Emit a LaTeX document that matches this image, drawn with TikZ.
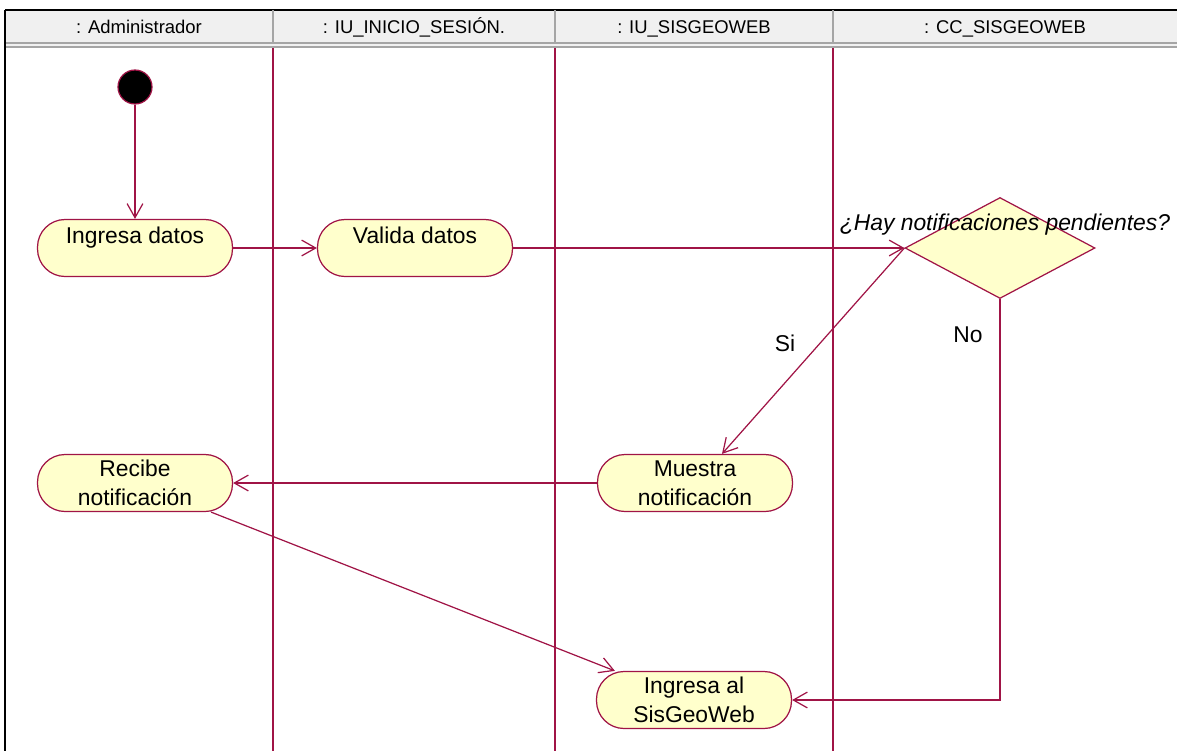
\documentclass[tikz,border=0pt]{standalone}
\usepackage{fontspec}
\setmainfont{Liberation Sans}
\usetikzlibrary{arrows.meta,shapes.geometric}
\definecolor{roseline}{RGB}{160,20,70}
\definecolor{rosefill}{RGB}{255,255,204}
\definecolor{headfill}{RGB}{240,240,240}
\definecolor{headline}{RGB}{165,165,165}

\begin{document}
\begin{tikzpicture}[
    x=0.02cm, y=-0.02cm,
    font=\fontsize{13}{16.5}\selectfont,
    >={Straight Barb[length=8pt,width=9pt]}, line width=0.7pt,
    activity/.style={draw=roseline, fill=rosefill, rounded corners=0.55cm, minimum width=3.9cm, minimum height=1.14cm, align=center, inner sep=2pt},
    oneline/.style={text height=9pt, text depth=14.6pt},
    lanehead/.style={font=\fontsize{10.5}{12}\selectfont, text height=8pt, text depth=2.5pt},
    flow/.style={->, draw=roseline}
]

\useasboundingbox (0,0) rectangle (1177,751);

% swimlane headers
\fill[headfill] (5,10) rectangle (1177,42);
\fill[headline] (5,42) rectangle (1177,48);
\draw[white!85!headline, line width=0.8pt] (5,45) -- (1177,45);
\draw[black, line width=1.2pt] (5,10) -- (1177,10);
\draw[black, line width=1.2pt] (5,10) -- (5,751);
\foreach \x in {273,555,833} {
    \draw[headline, line width=1.5pt] (\x,10) -- (\x,42);
    \draw[roseline] (\x,48) -- (\x,751);
}

\node[lanehead] (hdadmin)  at (139,29)  {: Administrador};
\node[lanehead] (hdinicio) at (414,29)  {: IU\_INICIO\_SESIÓN.};
\node[lanehead] (hdsisgeo) at (694,29)  {: IU\_SISGEOWEB};
\node[lanehead] (hdcc)     at (1005,29) {: CC\_SISGEOWEB};

% activities
\node[circle, draw=roseline, fill=black, minimum size=0.68cm, inner sep=0pt] (start) at (135,87) {};
\node[activity, oneline] (ingresa) at (135,248) {Ingresa datos};
\node[activity, oneline] (valida)  at (415,248) {Valida datos};
\node[diamond, draw=roseline, fill=rosefill, minimum width=3.8cm, minimum height=2.02cm, inner sep=0pt] (decision) at (1000,248) {};
\node (pregunta) at (1005,225) {\itshape ¿Hay notificaciones pendientes?};
\node[activity] (muestra)    at (695,483) {Muestra\\notificación};
\node[activity] (recibe)     at (135,483) {Recibe\\notificación};
\node[activity] (ingresaweb) at (694,700) {Ingresa al\\SisGeoWeb};

\node (lblsi) at (785,343) {Si};
\node (lblno) at (968,335) {No};

\draw[flow] (start) -- (ingresa);

\draw[flow] (ingresa) -- (valida);

\draw[flow] (valida) -- (decision.west);

\draw[flow] (decision.west) -- ([xshift=0.54cm]muestra.north);

\draw[flow] (decision.south) |- (ingresaweb.east);

\draw[flow] (muestra) -- (recibe);

\draw[flow] ([xshift=-0.44cm]recibe.south east) -- ([xshift=0.38cm]ingresaweb.north west);

\end{tikzpicture}
\end{document}
